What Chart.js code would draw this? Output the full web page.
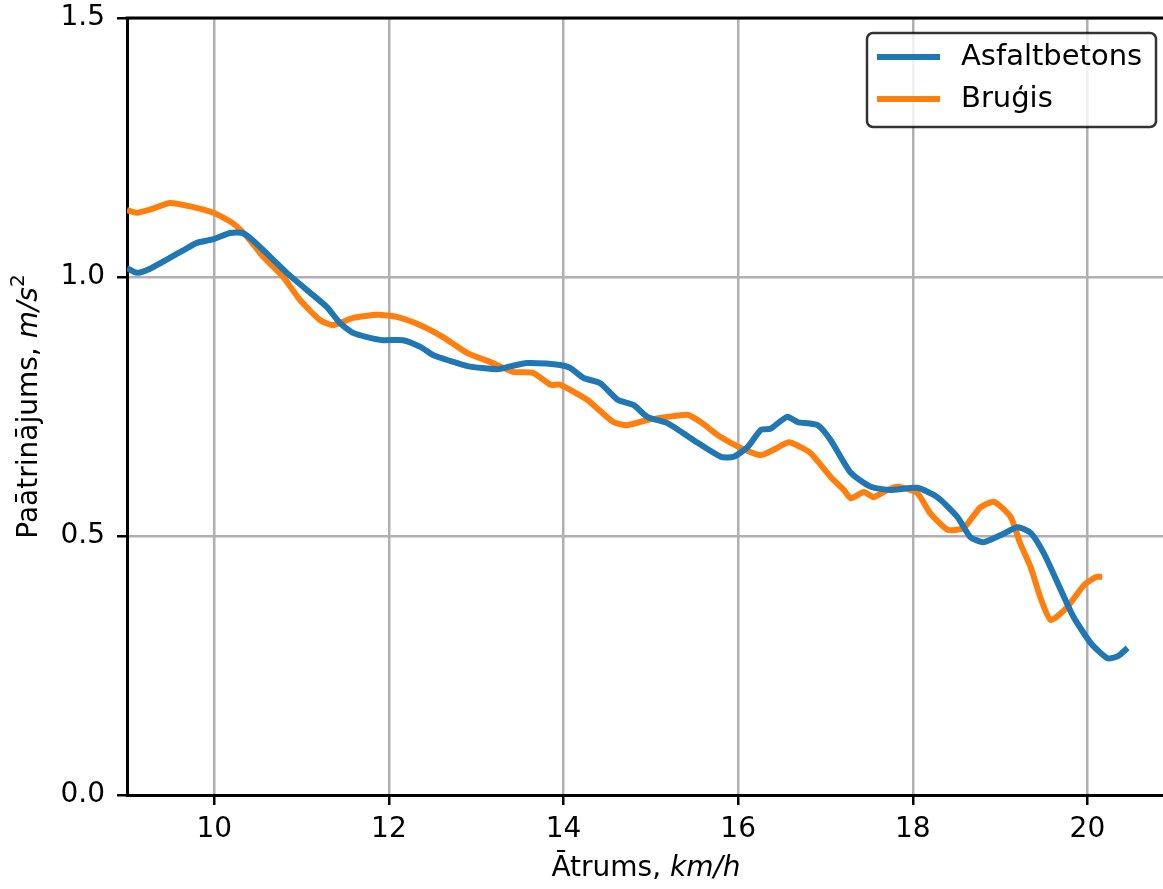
<!DOCTYPE html>
<html>
<head>
<meta charset="utf-8">
<script src="https://cdn.jsdelivr.net/npm/chart.js@4/dist/chart.umd.min.js"></script>
<style>
  html, body { margin: 0; padding: 0; background: #fff; overflow: hidden; }
  canvas { display: block; }
</style>
</head>
<body>
<canvas id="c" width="1200" height="889"></canvas>
<script>
var FONT = "'DejaVu Sans', sans-serif";

// Asfaltbetons
var blueX = [9.0, 9.11, 9.25, 9.49, 9.65, 9.80, 9.99, 10.18, 10.32, 10.44,
  10.64, 10.83, 11.06, 11.29, 11.44, 11.59, 11.75, 11.93, 12.16, 12.36,
  12.51, 12.70, 12.90, 13.24, 13.40, 13.58, 13.80, 13.96, 14.08, 14.23,
  14.42, 14.62, 14.80, 14.96, 15.19, 15.49, 15.80, 15.95, 16.11, 16.26,
  16.37, 16.56, 16.68, 16.91, 17.06, 17.29, 17.52, 17.74, 18.05, 18.28,
  18.51, 18.66, 18.81, 19.01, 19.20, 19.35, 19.50, 19.66, 19.84, 20.04,
  20.23, 20.35, 20.46];
var blueY = [1.017, 1.008, 1.015, 1.037, 1.052, 1.066, 1.073, 1.085, 1.085, 1.071,
  1.039, 1.008, 0.975, 0.942, 0.911, 0.892, 0.884, 0.878, 0.878, 0.865,
  0.849, 0.838, 0.828, 0.822, 0.828, 0.834, 0.833, 0.830, 0.824, 0.805,
  0.795, 0.763, 0.753, 0.730, 0.718, 0.685, 0.653, 0.653, 0.672, 0.705,
  0.707, 0.730, 0.720, 0.714, 0.685, 0.622, 0.595, 0.589, 0.593, 0.575,
  0.537, 0.498, 0.488, 0.502, 0.517, 0.506, 0.467, 0.409, 0.344, 0.293,
  0.264, 0.268, 0.284];

// Bruģis
var orangeX = [9.0, 9.11, 9.30, 9.49, 9.76, 9.99, 10.21, 10.38, 10.56, 10.79,
  10.98, 11.21, 11.36, 11.59, 11.87, 12.09, 12.36, 12.62, 12.90, 13.19,
  13.42, 13.65, 13.85, 13.96, 14.27, 14.57, 14.73, 14.96, 15.19, 15.42,
  15.57, 15.80, 16.03, 16.26, 16.40, 16.58, 16.71, 16.83, 17.06, 17.21,
  17.29, 17.44, 17.55, 17.71, 17.83, 18.05, 18.20, 18.40, 18.58, 18.70,
  18.78, 18.93, 19.12, 19.23, 19.35, 19.46, 19.58, 19.77, 19.96, 20.10,
  20.17];
var orangeY = [1.129, 1.124, 1.132, 1.143, 1.135, 1.124, 1.104, 1.077, 1.039, 1.0,
  0.956, 0.917, 0.907, 0.921, 0.927, 0.923, 0.907, 0.884, 0.853, 0.834,
  0.817, 0.815, 0.792, 0.792, 0.763, 0.720, 0.714, 0.724, 0.730, 0.734,
  0.720, 0.691, 0.670, 0.656, 0.666, 0.681, 0.672, 0.660, 0.614, 0.589,
  0.573, 0.585, 0.575, 0.589, 0.595, 0.583, 0.544, 0.512, 0.515, 0.540,
  0.556, 0.566, 0.537, 0.486, 0.440, 0.382, 0.338, 0.363, 0.405, 0.421,
  0.421];

var seriesNames = ["Asfaltbetons", "Bruģis"];
var seriesColors = ["#1f77b4", "#ff7f0e"];
var xTicks = [10, 12, 14, 16, 18, 20];
var yTicks = [0.0, 0.5, 1.0, 1.5];

function toPoints(xs, ys) {
  var pts = [];
  for (var i = 0; i < xs.length; i++) pts.push({x: xs[i], y: ys[i]});
  return pts;
}

// draw text made of pieces (some italic, some raised)
function drawPieces(ctx, pieces, cx, cy) {
  var total = 0;
  for (var i = 0; i < pieces.length; i++) {
    ctx.font = pieces[i].f;
    total += ctx.measureText(pieces[i].t).width;
  }
  var x = cx - total / 2;
  ctx.textAlign = "left";
  ctx.textBaseline = "middle";
  for (var i = 0; i < pieces.length; i++) {
    ctx.font = pieces[i].f;
    ctx.fillText(pieces[i].t, x, cy + (pieces[i].dy || 0));
    x += ctx.measureText(pieces[i].t).width;
  }
}

var decorPlugin = {
  id: "decor",
  afterDraw: function (chart) {
    var ctx = chart.ctx;
    var a = chart.chartArea;
    ctx.save();
    // top spine
    ctx.strokeStyle = "#000";
    ctx.lineWidth = 3;
    ctx.beginPath();
    ctx.moveTo(a.left - 1.5, a.top);
    ctx.lineTo(a.right, a.top);
    ctx.stroke();

    ctx.fillStyle = "#000";
    // x title
    drawPieces(ctx, [
      {t: "Ātrums, ", f: "28px " + FONT},
      {t: "km/h", f: "italic 28px " + FONT}
    ], 646, 869);
    // y title
    ctx.save();
    ctx.translate(30, (a.top + a.bottom) / 2);
    ctx.rotate(-Math.PI / 2);
    drawPieces(ctx, [
      {t: "Paātrinājums, ", f: "28px " + FONT},
      {t: "m/s", f: "italic 28px " + FONT},
      {t: "2", f: "20px " + FONT, dy: -11}
    ], 0, 0);
    ctx.restore();

    // legend
    var lx = 867, ly = 33, lw = 289, lh = 94;
    ctx.beginPath();
    ctx.roundRect(lx, ly, lw, lh, 6);
    ctx.fillStyle = "rgba(255,255,255,0.8)";
    ctx.fill();
    ctx.strokeStyle = "rgba(0,0,0,0.8)";
    ctx.lineWidth = 2.5;
    ctx.stroke();
    var rows = [57, 99];
    for (var i = 0; i < seriesNames.length; i++) {
      ctx.strokeStyle = seriesColors[i];
      ctx.lineWidth = 6;
      ctx.beginPath();
      ctx.moveTo(877, rows[i]);
      ctx.lineTo(940, rows[i]);
      ctx.stroke();
      ctx.fillStyle = "#000";
      ctx.font = "29px " + FONT;
      ctx.textAlign = "left";
      ctx.textBaseline = "middle";
      ctx.fillText(seriesNames[i], 961, rows[i]);
    }
    ctx.restore();
  }
};

var ctx = document.getElementById("c").getContext("2d");
new Chart(ctx, {
  type: "line",
  data: {
    datasets: [
      {label: seriesNames[0], data: toPoints(blueX, blueY), borderColor: seriesColors[0],
       borderWidth: 6, pointRadius: 0, fill: false, tension: 0.2},
      {label: seriesNames[1], data: toPoints(orangeX, orangeY), borderColor: seriesColors[1],
       borderWidth: 6, pointRadius: 0, fill: false, tension: 0.2}
    ]
  },
  options: {
    responsive: false,
    animation: false,
    devicePixelRatio: 1,
    layout: {padding: {top: 18, right: 34, left: 0, bottom: 0}},
    plugins: {legend: {display: false}, tooltip: {enabled: false}},
    scales: {
      x: {
        type: "linear",
        min: 9, max: 20.9,
        afterFit: function (s) { s.height = 94; s.paddingLeft = 0; s.paddingRight = 0; },
        afterBuildTicks: function (s) { s.ticks = xTicks.map(function (v) { return {value: v}; }); },
        grid: {color: "#b0b0b0", lineWidth: 2.5, tickColor: "#000", tickWidth: 2.5, tickLength: 10},
        border: {color: "#000", width: 3},
        ticks: {color: "#000", font: {family: FONT, size: 28}, padding: 8, maxRotation: 0,
          callback: function (v) { return String(v); }}
      },
      y: {
        min: 0, max: 1.5,
        afterFit: function (s) { s.width = 127; s.paddingTop = 0; s.paddingBottom = 0; },
        afterBuildTicks: function (s) { s.ticks = yTicks.map(function (v) { return {value: v}; }); },
        grid: {color: "#b0b0b0", lineWidth: 2.5, tickColor: "#000", tickWidth: 2.5, tickLength: 10},
        border: {color: "#000", width: 3},
        ticks: {color: "#000", font: {family: FONT, size: 28}, padding: 12,
          callback: function (v) { return v.toFixed(1); }}
      }
    }
  },
  plugins: [decorPlugin]
});
</script>
</body>
</html>
